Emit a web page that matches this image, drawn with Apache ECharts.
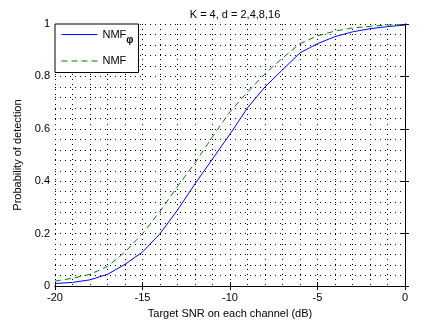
<!DOCTYPE html>
<html>
<head>
<meta charset="utf-8">
<script src="https://cdn.jsdelivr.net/npm/echarts@6/dist/echarts.min.js"></script>
<style>
  html, body { margin: 0; padding: 0; background: #fff; }
  #chart { width: 444px; height: 324px; }
</style>
</head>
<body>
<div id="chart"></div>
<script>
// SNR grid (dB)
var snr = [-20, -19, -18, -17, -16, -15, -14, -13, -12, -11, -10, -9, -8, -7, -6, -5, -4, -3, -2, -1, 0]
// detection probability
var nmfPhi = [0.010, 0.014, 0.024, 0.045, 0.083, 0.13, 0.20, 0.29, 0.39, 0.485, 0.58, 0.68, 0.76, 0.825, 0.89, 0.925, 0.952, 0.970, 0.982, 0.990, 0.996]
var nmf = [0.019, 0.030, 0.045, 0.075, 0.13, 0.20, 0.285, 0.38, 0.47, 0.57, 0.665, 0.74, 0.81, 0.87, 0.925, 0.955, 0.973, 0.985, 0.991, 0.996, 0.998]

function pairs (xs, ys) {
  return xs.map(function (x, i) { return [x, ys[i]] })
}

var font = 'Liberation Sans, Arial, sans-serif'
var dotted = { color: '#000', width: 1, type: [1, 4] }

var chart = echarts.init(document.getElementById('chart'))
chart.setOption({
  animation: false,
  title: {
    text: 'K = 4, d = 2,4,8,16',
    left: 230, top: 4, textAlign: 'center',
    textStyle: { fontFamily: font, fontSize: 11, fontWeight: 'normal', color: '#000' }
  },
  grid: { left: 55, top: 24, right: 39, bottom: 33, show: false },
  legend: {
    left: 55, top: 24, orient: 'vertical',
    padding: [5, 5, 6, 6],
    itemWidth: 36, itemHeight: 12, itemGap: 10,
    borderColor: '#000', borderWidth: 1, backgroundColor: '#fff',
    itemStyle: { opacity: 0 },
    lineStyle: { width: 1 },
    data: ['NMFφ', 'NMF'],
    formatter: function (name) {
      return name === 'NMFφ' ? 'NMF{sub|φ}' : name
    },
    textStyle: {
      fontFamily: font, fontSize: 11, color: '#000',
      rich: { sub: { fontFamily: font, fontSize: 10, fontWeight: 'bold', color: '#000', padding: [12, 0, 0, 0] } }
    }
  },
  xAxis: [{
    type: 'value', min: -20, max: 0, interval: 5,
    name: 'Target SNR on each channel (dB)', nameLocation: 'middle', nameGap: 18,
    nameTextStyle: { fontFamily: font, fontSize: 11, color: '#000' },
    axisLine: { lineStyle: { color: '#000' } },
    axisTick: { inside: true, length: 4, lineStyle: { color: '#000' } },
    axisLabel: { fontFamily: font, fontSize: 11, color: '#000', margin: 6 },
    splitLine: { show: true, lineStyle: dotted },
    minorTick: { show: false, splitNumber: 5 },
    minorSplitLine: { show: true, lineStyle: dotted }
  }, {
    type: 'value', position: 'top', min: -20, max: 0, interval: 5,
    axisLine: { show: true, lineStyle: { color: '#000' } },
    axisTick: { inside: true, length: 4, lineStyle: { color: '#000' } },
    axisLabel: { show: false },
    splitLine: { show: false }
  }],
  yAxis: [{
    type: 'value', min: 0, max: 1, interval: 0.2,
    name: 'Probability of detection', nameLocation: 'middle', nameGap: 32,
    nameTextStyle: { fontFamily: font, fontSize: 11, color: '#000' },
    axisLine: { show: true, lineStyle: { color: '#000' } },
    axisTick: { show: true, inside: true, length: 4, lineStyle: { color: '#000' } },
    axisLabel: {
      fontFamily: font, fontSize: 11, color: '#000', margin: 5,
      formatter: function (v) { return v === 0 || v === 1 ? String(v) : v.toFixed(1) }
    },
    splitLine: { show: true, lineStyle: dotted },
    minorTick: { show: false, splitNumber: 5 },
    minorSplitLine: { show: true, lineStyle: dotted }
  }, {
    type: 'value', position: 'right', min: 0, max: 1, interval: 0.2,
    axisLine: { show: true, lineStyle: { color: '#000' } },
    axisTick: { show: true, inside: true, length: 4, lineStyle: { color: '#000' } },
    axisLabel: { show: false },
    splitLine: { show: false }
  }],
  series: [{
    name: 'NMFφ', type: 'line', data: pairs(snr, nmfPhi),
    symbol: 'none', color: '#0000ff',
    lineStyle: { width: 1, color: '#0000ff' }
  }, {
    name: 'NMF', type: 'line', data: pairs(snr, nmf),
    symbol: 'none', color: '#007f00',
    lineStyle: { width: 1, color: '#007f00', type: [6, 4] }
  }]
})
</script>
</body>
</html>
